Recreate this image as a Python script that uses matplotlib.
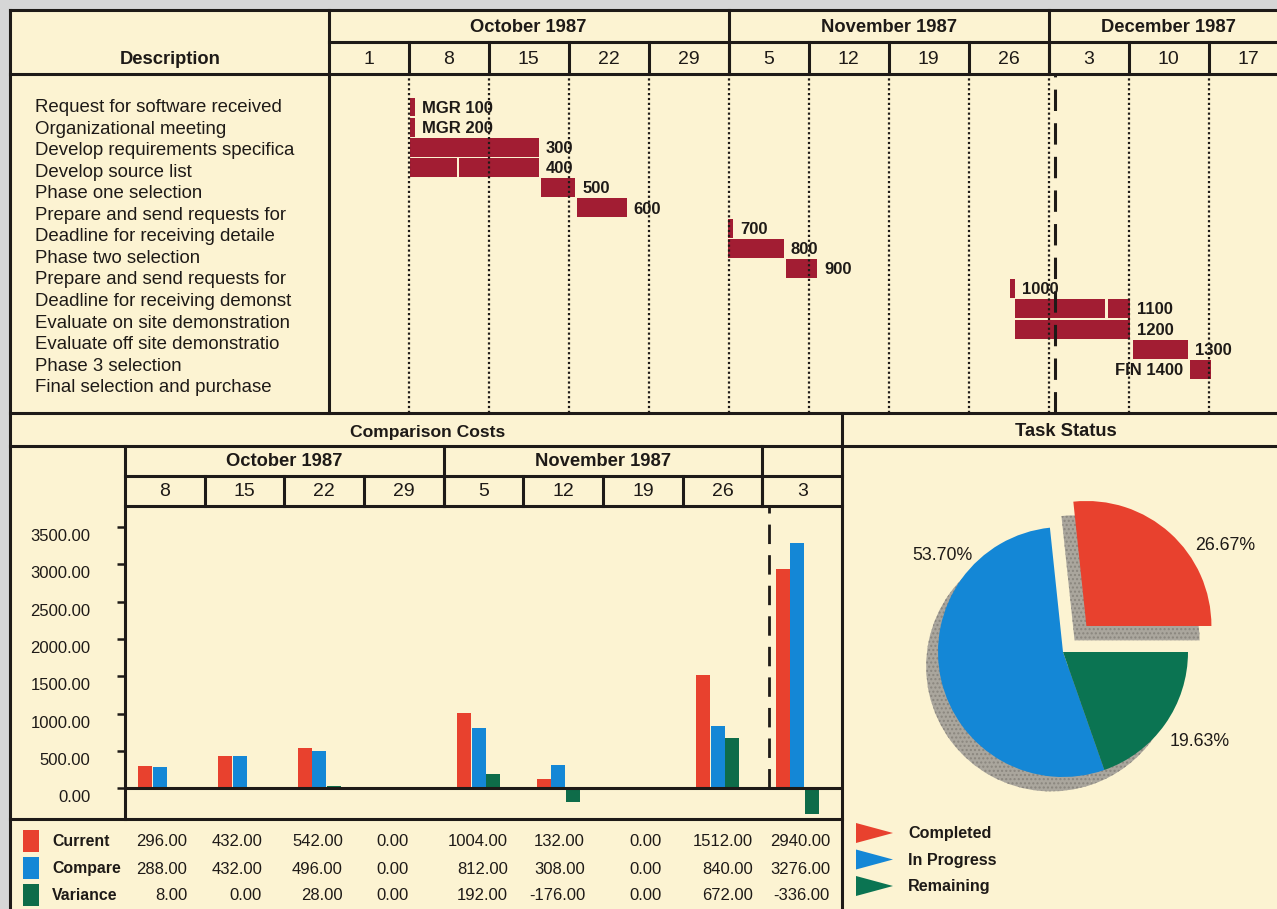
import numpy as np
import matplotlib
matplotlib.use('Agg')
from matplotlib import pyplot as plt
from matplotlib.patches import Rectangle, Polygon
from matplotlib.transforms import blended_transform_factory, ScaledTranslation

plt.rcParams['font.family'] = ['Liberation Sans', 'DejaVu Sans']

# ---- project schedule ----
months = ['October 1987', 'November 1987', 'December 1987']
month_weeks = [5, 4, 3]
week_days = ['1', '8', '15', '22', '29', '5', '12', '19', '26', '3', '10', '17']

tasks = ['Request for software received', 'Organizational meeting',
         'Develop requirements specifica', 'Develop source list',
         'Phase one selection', 'Prepare and send requests for',
         'Deadline for receiving detaile', 'Phase two selection',
         'Prepare and send requests for', 'Deadline for receiving demonst',
         'Evaluate on site demonstration', 'Evaluate off site demonstratio',
         'Phase 3 selection', 'Final selection and purchase']
task_ids = ['MGR 100', 'MGR 200', '300', '400', '500', '600', '700', '800',
            '900', '1000', '1100', '1200', '1300', 'FIN 1400']
# (start, length) in days counted from Oct 1
task_spans = [
    [(7.1, 0.45)],
    [(7.1, 0.45)],
    [(7.1, 11.3)],
    [(7.1, 4.15), (11.42, 7.0)],
    [(18.6, 3.0)],
    [(21.75, 4.35)],
    [(34.95, 0.45)],
    [(34.95, 4.9)],
    [(40.0, 2.75)],
    [(59.65, 0.4)],
    [(60.06, 7.88), (68.2, 1.92)],
    [(60.06, 10.06)],
    [(70.36, 4.84)],
    [(75.37, 1.81)],
]
today = 63.56

# ---- comparison costs ----
cost_months = ['October 1987', 'November 1987']
cost_month_weeks = [4, 4]
cost_weeks = ['8', '15', '22', '29', '5', '12', '19', '26', '3']
current = [296, 432, 542, 0, 1004, 132, 0, 1512, 2940]
compare = [288, 432, 496, 0, 812, 308, 0, 840, 3276]
variance = [8, 0, 28, 0, 192, -176, 0, 672, -336]
series_names = ['Current', 'Compare', 'Variance']
cost_today = 8.08

# ---- task status ----
status_names = ['Completed', 'In Progress', 'Remaining']
status_pct = [26.67, 53.70, 19.63]

# ---- styling ----
CREAM = '#fcf3d2'
GRAY = '#d6d6d6'
INK = '#1e1a17'
MAROON = '#a21d33'
RED = '#e8412e'
BLUE = '#1487d6'
GREEN = '#0e6c49'
PIE_GREEN = '#0b7452'
LW = 2.2
HEAD = 13.2      # bold headings
BODY = 13.4      # task names
NUM = 12         # numbers

W, H = 1277, 909
PX_DAY = 80 / 7.0

fig = plt.figure(figsize=(W / 100, H / 100), dpi=100, facecolor=GRAY)
frame = fig.add_axes([0, 0, 1, 1], zorder=0)
frame.set_xlim(0, W)
frame.set_ylim(H, 0)
frame.axis('off')
frame.add_patch(Rectangle((10, 10), W, H, fc=CREAM, ec='none'))


def box(x0, y0, x1, y1):
    return [x0 / W, 1 - y1 / H, (x1 - x0) / W, (y1 - y0) / H]


def hline(y, x0, x1, trans=None, lw=LW):
    frame.plot([x0, x1], [y, y], color=INK, lw=lw, solid_capstyle='projecting',
               transform=trans or frame.transData)


def vline(x, y0, y1, trans=None, lw=LW):
    frame.plot([x, x], [y0, y1], color=INK, lw=lw, solid_capstyle='projecting',
               transform=trans or frame.transData)


# outer frame and section dividers
hline(10, 10, W)
vline(10, 10, H)
hline(42, 328.5, W)
hline(74, 10, W)
hline(413, 10, W)
hline(446, 10, W)
vline(842, 413, H)
hline(819, 10, 842)

# ---------------- Gantt ----------------
g = fig.add_axes(box(328.5, 74, W, 413), zorder=1)
g.set_xlim(0, (W - 328.5) / PX_DAY)
g.set_ylim(15.15, -1.634)
g.axis('off')

for k in range(1, len(week_days)):
    g.axvline(7 * k, color=INK, lw=1.6, ls=(0, (1, 1.2)))
g.axvline(today, color=INK, lw=2.2, ls=(0, (7, 4)))

for i, (spans, tid) in enumerate(zip(task_spans, task_ids)):
    g.broken_barh(spans, (i - 0.47, 0.94), facecolors=MAROON, edgecolor='none')
    if tid.startswith('FIN'):
        g.text(spans[0][0] - 0.6, i + 0.05, tid, ha='right', va='center',
               fontsize=12, fontweight='bold', color=INK)
    else:
        end = spans[-1][0] + spans[-1][1]
        g.text(end + 0.6, i + 0.05, tid, ha='left', va='center',
               fontsize=12, fontweight='bold', color=INK)

tg = blended_transform_factory(g.transData, frame.transData)
vline(0, 10, 413, trans=tg)
d0 = 0
for name, n in zip(months, month_weeks):
    frame.text(7 * (d0 + n / 2.0), 27, name, transform=tg, ha='center', va='center',
               fontsize=HEAD, fontweight='bold', color=INK)
    if d0 > 0:
        vline(7 * d0, 10, 74, trans=tg)
    d0 += n
for k, day in enumerate(week_days):
    frame.text(7 * k + 3.5, 59, day, transform=tg, ha='center', va='center',
               fontsize=14, color=INK)
    if k > 0:
        vline(7 * k, 42, 74, trans=tg)

frame.text(170, 59, 'Description', ha='center', va='center', fontsize=HEAD,
           fontweight='bold', color=INK)
for i, name in enumerate(tasks):
    frame.text(35, 107.5 + 21.55 * i, name, ha='left', va='center', fontsize=BODY, color=INK)

# ---------------- Comparison costs ----------------
frame.text(428, 432, 'Comparison Costs', ha='center', va='center', fontsize=12.6,
           fontweight='bold', color=INK)
frame.text(1066, 432, 'Task Status', ha='center', va='center', fontsize=HEAD,
           fontweight='bold', color=INK)

b = fig.add_axes(box(125, 506, 842, 819), zorder=1)
b.set_xlim(0, len(cost_weeks))
b.set_ylim(-408, 3777)
b.patch.set_visible(False)
for s in b.spines.values():
    s.set_visible(False)
b.set_xticks([])
yt = np.arange(0, 3501, 500)
b.set_yticks(yt)
b.set_yticklabels([f'{v:.2f}' for v in yt])
b.tick_params(axis='y', direction='out', length=6, width=1.8, color=INK, pad=19,
              labelsize=NUM, labelcolor=INK)
shift = ScaledTranslation(0, -0.08, fig.dpi_scale_trans)
for lab in b.get_yticklabels():
    lab.set_transform(lab.get_transform() + shift)

xs = np.arange(len(cost_weeks))
for vals, off, col in zip([current, compare, variance], [0.255, 0.44, 0.625], [RED, BLUE, GREEN]):
    b.bar(xs + off, vals, width=0.175, color=col, linewidth=0)
b.axhline(0, color=INK, lw=LW)
lo, hi = b.get_ylim()
b.axvline(cost_today, ymin=(0 - lo) / (hi - lo), ymax=1, color=INK, lw=2.0, ls=(0, (7, 4)))

tb = blended_transform_factory(b.transData, frame.transData)
vline(0, 446, 819, trans=tb)
hline(476, 0, len(cost_weeks), trans=tb)
hline(506, 0, len(cost_weeks), trans=tb)
c0 = 0
for name, n in zip(cost_months, cost_month_weeks):
    frame.text(c0 + n / 2.0, 461, name, transform=tb, ha='center', va='center',
               fontsize=HEAD, fontweight='bold', color=INK)
    c0 += n
    vline(c0, 446, 506, trans=tb)
for k, day in enumerate(cost_weeks):
    frame.text(k + 0.5, 491, day, transform=tb, ha='center', va='center',
               fontsize=14, color=INK)
    if k > 0:
        vline(k, 476, 506, trans=tb)

# value table under the bars
value_x = [187, 262, 343, 409, 508, 585, 662, 753, 830]
for r, (name, vals, col) in enumerate(zip(series_names, [current, compare, variance],
                                          [RED, BLUE, GREEN])):
    y = 842 + 27 * r
    frame.add_patch(Rectangle((23, y - 12), 16, 22, fc=col, ec='none'))
    frame.text(52, y, name, ha='left', va='center', fontsize=11.4,
               fontweight='bold', color=INK)
    for x, v in zip(value_x, vals):
        frame.text(x, y, f'{v:.2f}', ha='right', va='center', fontsize=NUM, color=INK)

# ---------------- Task status pie ----------------
p = fig.add_axes(box(863, 452, 1263, 852), zorder=1)
explode = [0.28, 0, 0]
p.pie(status_pct, explode=explode, startangle=0, counterclock=True,
      center=(-0.095, -0.115), colors=['#aaa69d'] * 3,
      wedgeprops=dict(linewidth=0, hatch='....', edgecolor='#8a867e'))
p.pie(status_pct, explode=explode, startangle=0, counterclock=True,
      colors=[RED, BLUE, PIE_GREEN], wedgeprops=dict(linewidth=0))
p.set_xlim(-1.6, 1.6)
p.set_ylim(-1.6, 1.6)
p.axis('off')

pct_pos = [(1.296, 0.856), (-0.968, 0.776), (1.096, -0.72)]
for (x, y), v in zip(pct_pos, status_pct):
    p.text(x, y, f'{v:.2f}%', ha='center', va='center', fontsize=12.8, color=INK)

for j, (name, col) in enumerate(zip(status_names, [RED, BLUE, PIE_GREEN])):
    y0 = 823 + 26.5 * j
    frame.add_patch(Polygon([(856, y0), (893, y0 + 10), (856, y0 + 20)],
                            closed=True, fc=col, ec='none'))
    frame.text(908, y0 + 10.5, name, ha='left', va='center', fontsize=11.6,
               fontweight='bold', color=INK)

fig.savefig('out.png', dpi=100, facecolor=GRAY)
